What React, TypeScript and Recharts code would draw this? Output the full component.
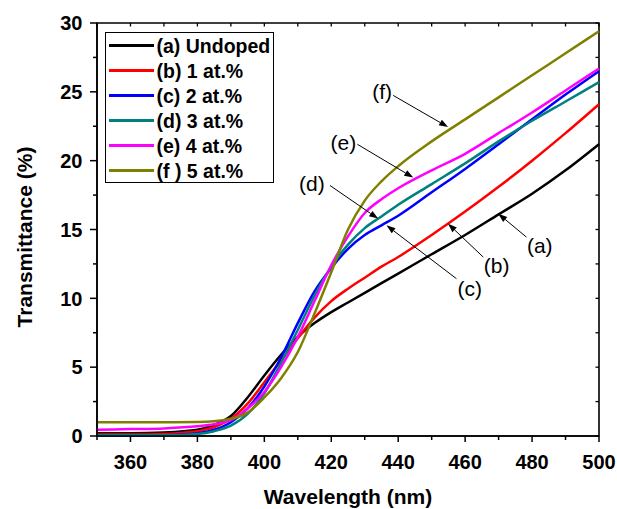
import React from 'react';
import { LineChart, Line, XAxis, YAxis, Legend, ReferenceLine, ReferenceDot, ReferenceArea } from 'recharts';

const wavelengths = [350, 360, 370, 380, 385, 390, 395, 400, 405, 410, 415, 420, 425, 430, 435, 440, 450, 460, 470, 480, 490, 500];
const undoped = [0.2, 0.2, 0.25, 0.45, 0.8, 1.45, 2.8, 4.4, 5.9, 7.2, 8.2, 9.0, 9.7, 10.4, 11.1, 11.8, 13.2, 14.6, 16.1, 17.6, 19.3, 21.2];
const at1 = [0.1, 0.1, 0.15, 0.35, 0.65, 1.25, 2.35, 3.9, 5.5, 7.1, 8.6, 9.8, 10.7, 11.5, 12.3, 13.0, 14.6, 16.3, 18.1, 20.0, 22.0, 24.1];
const at2 = [0.02, 0.02, 0.05, 0.2, 0.45, 1.0, 2.0, 3.6, 5.7, 8.2, 10.5, 12.2, 13.6, 14.6, 15.3, 16.0, 17.7, 19.4, 21.2, 23.0, 24.8, 26.5];
const at3 = [0.05, 0.05, 0.05, 0.15, 0.35, 0.75, 1.6, 3.1, 5.3, 7.7, 10.2, 12.3, 13.9, 15.1, 15.95, 16.8, 18.3, 19.8, 21.4, 22.9, 24.3, 25.7];
const at4 = [0.45, 0.5, 0.55, 0.7, 0.85, 1.15, 2.0, 3.2, 5.0, 7.2, 9.8, 12.4, 14.5, 16.2, 17.2, 18.0, 19.3, 20.5, 22.0, 23.5, 25.1, 26.7];
const at5 = [1.0, 1.0, 1.0, 1.02, 1.08, 1.25, 1.7, 2.8, 4.2, 6.1, 8.9, 11.9, 15.0, 17.1, 18.5, 19.6, 21.4, 23.0, 24.6, 26.2, 27.8, 29.4];

const seriesKeys = ['a', 'b', 'c', 'd', 'e', 'f'];
const seriesValues = [undoped, at1, at2, at3, at4, at5];
const seriesNames = ['(a) Undoped', '(b) 1 at.%', '(c) 2 at.%', '(d) 3 at.%', '(e) 4 at.%', '(f ) 5 at.%'];
const seriesColors = ['#000000', '#ff0000', '#0000ff', '#008080', '#ff00ff', '#808000'];

const xTicks = [350, 360, 370, 380, 390, 400, 410, 420, 430, 440, 450, 460, 470, 480, 490, 500];
const xLabelTicks = [360, 380, 400, 420, 440, 460, 480, 500];
const yTicks = [0, 2.5, 5, 7.5, 10, 12.5, 15, 17.5, 20, 22.5, 25, 27.5, 30];
const yLabelTicks = [0, 5, 10, 15, 20, 25, 30];
const xDomain = [350, 500];
const yDomain = [0, 30];

const annotationLabels = ['(a)', '(b)', '(c)', '(d)', '(e)', '(f)'];
const annotationTextPos = [[482.3, 13.8], [469.4, 12.35], [461.4, 10.7], [414.2, 18.3], [423.6, 21.3], [435.2, 25.0]];
const annotationArrowFrom = [[478.3, 14.45], [465.4, 13.0], [457.4, 11.43], [419.6, 18.2], [427.8, 21.19], [438.5, 24.74]];
const annotationArrowTo = [[469.9, 16.15], [454.9, 15.42], [436.5, 15.3], [434.0, 15.79], [444.5, 18.77], [454.9, 22.44]];

const data = wavelengths.map((w, i) => {
  const row: any = { w };
  seriesKeys.forEach((k, j) => { row[k] = seriesValues[j][i]; });
  return row;
});

const FONT = '"Liberation Sans", Arial, sans-serif';

const BottomTick = (props: any) => {
  const x = Number(props.x);
  const y = Number(props.y);
  const v = props.payload.value;
  const major = xLabelTicks.includes(v);
  return (
    <g>
      <line x1={x} y1={y} x2={x} y2={y + (major ? 6 : 4)} stroke="#000000" strokeWidth={1.5} />
      {major && (
        <text x={x} y={y + 32.5} textAnchor="middle" fontSize={20} fontWeight="bold" fontFamily={FONT} fill="#000">{v}</text>
      )}
    </g>
  );
};

const LeftTick = (props: any) => {
  const x = Number(props.x);
  const y = Number(props.y);
  const v = props.payload.value;
  const major = yLabelTicks.includes(v);
  return (
    <g>
      <line x1={x} y1={y} x2={x - (major ? 7 : 4)} y2={y} stroke="#000000" strokeWidth={1.5} />
      {major && (
        <text x={x - 14.5} y={y + 7.2} textAnchor="end" fontSize={20} fontWeight="bold" fontFamily={FONT} fill="#000">{v}</text>
      )}
    </g>
  );
};

const makeVTick = (len: number) => (props: any) => (
  <line x1={Number(props.x1)} y1={Number(props.y1)} x2={Number(props.x1)} y2={Number(props.y1) + len} stroke="#000000" strokeWidth={1.3} />
);
const makeHTick = (len: number) => (props: any) => (
  <line x1={Number(props.x1)} y1={Number(props.y1)} x2={Number(props.x1) + len} y2={Number(props.y1)} stroke="#000000" strokeWidth={1.3} />
);
const topTick = makeVTick(3.5);
const rightTick = makeHTick(-3.5);

const ArrowShape = (props: any) => {
  const { x1, y1, x2, y2 } = props;
  const dx = x2 - x1;
  const dy = y2 - y1;
  const len = Math.sqrt(dx * dx + dy * dy) || 1;
  const ux = dx / len;
  const uy = dy / len;
  const hl = 9;
  const hw = 3.2;
  const bx = x2 - ux * hl;
  const by = y2 - uy * hl;
  const p1 = `${x2},${y2}`;
  const p2 = `${bx - uy * hw},${by + ux * hw}`;
  const p3 = `${bx + uy * hw},${by - ux * hw}`;
  return (
    <g>
      <line x1={x1} y1={y1} x2={bx} y2={by} stroke="#000" strokeWidth={1} />
      <polygon points={`${p1} ${p2} ${p3}`} fill="#000" />
    </g>
  );
};

const makeTextShape = (label: string) => (props: any) => (
  <text x={props.cx} y={props.cy + 7} textAnchor="middle" fontSize={21} fontFamily={FONT} fill="#000">{label}</text>
);

const renderLegend = (props: any) => {
  const payload = (props.payload || []).filter((p: any) => seriesNames.includes(p.value));
  return (
    <svg width={169} height={151} style={{ display: 'block' }}>
      <rect x={0.5} y={0.5} width={168} height={150} fill="#fff" stroke="#000" strokeWidth={1} />
      {payload.map((p: any, i: number) => {
        const cy = 13.5 + i * 25;
        return (
          <g key={i}>
            <line x1={4} y1={cy} x2={49} y2={cy} stroke={p.color} strokeWidth={3} />
            <text x={51.5} y={cy + 7} fontSize={19.5} fontWeight="bold" fontFamily={FONT} fill="#000">{p.value}</text>
          </g>
        );
      })}
    </svg>
  );
};

const XTitle = (props: any) => {
  const vb = props.viewBox || {};
  const cx = vb.x + vb.width / 2;
  return (
    <text x={cx} y={504} textAnchor="middle" fontSize={21} fontWeight="bold" fontFamily={FONT} fill="#000">Wavelength (nm)</text>
  );
};

const YTitle = () => (
  <text transform="translate(32, 237) rotate(-90)" x={0} y={0} textAnchor="middle" fontSize={21} fontWeight="bold" fontFamily={FONT} fill="#000">Transmittance (%)</text>
);

export default function App() {
  return (
    <div style={{ position: 'absolute', left: 0, top: 0, background: '#fff' }}>
      <LineChart width={617} height={509} data={data} margin={{ top: 23, right: 18, bottom: 0, left: 0 }}>
        <XAxis
          dataKey="w"
          type="number"
          domain={xDomain}
          ticks={xTicks}
          interval={0}
          height={73}
          tickSize={0}
          tickMargin={0}
          tickLine={false}
          tick={<BottomTick />}
          axisLine={{ stroke: '#000', strokeWidth: 1.5 }}
          label={{ content: <XTitle /> }}
        />
        <YAxis
          type="number"
          domain={yDomain}
          ticks={yTicks}
          interval={0}
          width={97}
          tickSize={0}
          tickMargin={0}
          tickLine={false}
          tick={<LeftTick />}
          axisLine={{ stroke: '#000', strokeWidth: 1.5 }}
          label={{ content: <YTitle /> }}
        />
        <Legend
          layout="vertical"
          align="center"
          verticalAlign="middle"
          wrapperStyle={{ position: 'absolute', left: 105, top: 31.7, width: 169, height: 151 }}
          content={renderLegend}
        />
        <ReferenceArea
          x1={xDomain[0]}
          x2={xDomain[1]}
          y1={yDomain[0]}
          y2={yDomain[1]}
          fill="none"
          fillOpacity={0}
          stroke="#000000"
          strokeWidth={1.6}
          strokeOpacity={1}
          ifOverflow="visible"
        />
        {seriesKeys.map((k, i) => (
          <Line
            key={k}
            type="monotone"
            dataKey={k}
            name={seriesNames[i]}
            stroke={seriesColors[i]}
            strokeWidth={2.5}
            dot={false}
            activeDot={false}
            isAnimationActive={false}
          />
        ))}
        {xTicks.map((t) => (
          <ReferenceLine
            key={'tt' + t}
            segment={[{ x: t, y: yDomain[1] }, { x: t, y: yDomain[0] }]}
            ifOverflow="visible"
            shape={topTick}
          />
        ))}
        {yTicks.map((t) => (
          <ReferenceLine
            key={'rt' + t}
            segment={[{ x: xDomain[1], y: t }, { x: xDomain[0], y: t }]}
            ifOverflow="visible"
            shape={rightTick}
          />
        ))}
        {annotationLabels.map((lab, i) => (
          <ReferenceLine
            key={'arr' + i}
            segment={[
              { x: annotationArrowFrom[i][0], y: annotationArrowFrom[i][1] },
              { x: annotationArrowTo[i][0], y: annotationArrowTo[i][1] },
            ]}
            ifOverflow="visible"
            shape={ArrowShape}
          />
        ))}
        {annotationLabels.map((lab, i) => (
          <ReferenceDot
            key={'lab' + i}
            x={annotationTextPos[i][0]}
            y={annotationTextPos[i][1]}
            r={1}
            ifOverflow="visible"
            shape={makeTextShape(lab)}
          />
        ))}
      </LineChart>
    </div>
  );
}
